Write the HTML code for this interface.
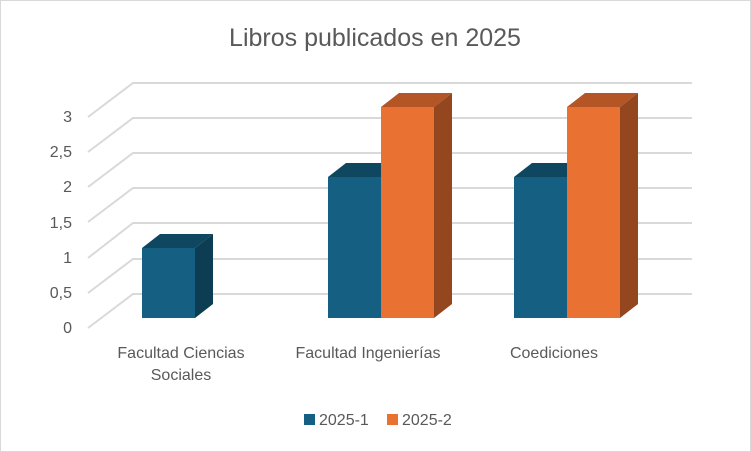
<!DOCTYPE html>
<html><head><style>
body{margin:0;background:#fff;}
svg{display:block;font-family:"Liberation Sans",sans-serif;}
</style></head><body>
<svg width="751" height="452" viewBox="0 0 751 452">
<rect x="0.5" y="0.5" width="750" height="451" fill="#fff" stroke="#d9d9d9"/>
<text x="375" y="46" text-anchor="middle" font-size="25" fill="#595959">Libros publicados en 2025</text>
<g stroke="#d9d9d9" stroke-width="2" fill="none">
<path d="M88,328L133,294H692"/>
<path d="M88,293L133,259H692"/>
<path d="M88,258L133,223H692"/>
<path d="M88,222L133,188H692"/>
<path d="M88,187L133,153H692"/>
<path d="M88,152L133,118H692"/>
<path d="M88,117L133,83H692"/>
</g>
<g font-size="16" fill="#595959" text-anchor="end">
<text x="72" y="333">0</text><text x="72" y="298">0,5</text><text x="72" y="263">1</text>
<text x="72" y="228">1,5</text><text x="72" y="192">2</text><text x="72" y="157">2,5</text><text x="72" y="122">3</text>
</g>
<polygon points="142,248 160,234 213,234 195,248" fill="#0f4761"/>
<polygon points="195,248 213,234 213,304 195,318" fill="#0c3d52"/>
<rect x="142" y="248" width="53" height="70" fill="#156082"/>
<polygon points="328,177 346,163 399,163 381,177" fill="#0f4761"/>
<rect x="328" y="177" width="53" height="141" fill="#156082"/>
<polygon points="381,107 399,93 452,93 434,107" fill="#b35524"/>
<polygon points="434,107 452,93 452,304 434,318" fill="#94461f"/>
<rect x="381" y="107" width="53" height="211" fill="#e97132"/>
<polygon points="514,177 532,163 585,163 567,177" fill="#0f4761"/>
<rect x="514" y="177" width="53" height="141" fill="#156082"/>
<polygon points="567,107 585,93 638,93 620,107" fill="#b35524"/>
<polygon points="620,107 638,93 638,304 620,318" fill="#94461f"/>
<rect x="567" y="107" width="53" height="211" fill="#e97132"/>
<g font-size="16" fill="#595959" text-anchor="middle">
<text x="181" y="358">Facultad Ciencias</text><text x="181" y="380">Sociales</text>
<text x="368" y="358">Facultad Ingenierías</text>
<text x="554" y="358">Coediciones</text>
</g>
<rect x="304" y="414" width="11" height="11" fill="#156082"/>
<text x="319" y="425" font-size="16" fill="#595959">2025-1</text>
<rect x="387" y="414" width="11" height="11" fill="#e97132"/>
<text x="402" y="425" font-size="16" fill="#595959">2025-2</text>
</svg>
</body></html>
